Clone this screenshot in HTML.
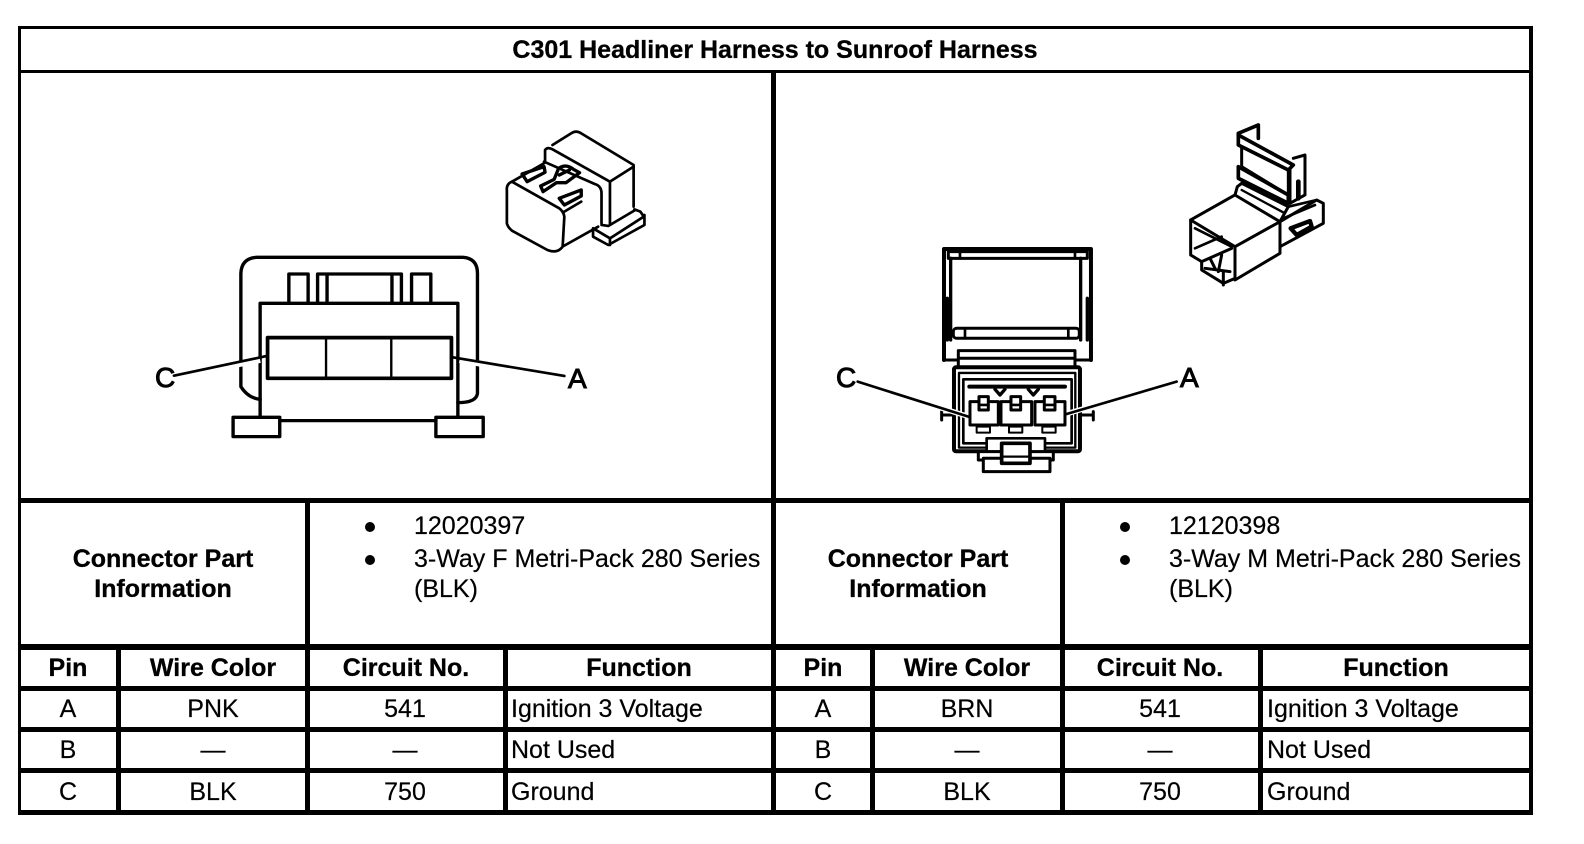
<!DOCTYPE html>
<html>
<head>
<meta charset="utf-8">
<style>
html,body{margin:0;padding:0;background:#fff;width:1584px;height:844px;overflow:hidden}
svg{display:block}
text{font-family:"Liberation Sans",Arial,sans-serif;font-size:25px;fill:#000;stroke:#000;stroke-width:.2px}
.b{font-weight:bold;stroke:#000;stroke-width:.3px}
.m{text-anchor:middle}
.lab{font-size:28px;stroke:#000;stroke-width:1px}
.d{fill:none;stroke:#000;stroke-linejoin:round;stroke-linecap:round}
</style>
</head>
<body>
<svg width="1584" height="844" viewBox="0 0 1584 844" xmlns="http://www.w3.org/2000/svg">
<rect width="1584" height="844" fill="#fff"/>

<!-- table grid -->
<g fill="#000" shape-rendering="crispEdges">
<rect x="18" y="26" width="1515" height="3"/>
<rect x="18" y="70" width="1515" height="3"/>
<rect x="18" y="498" width="1515" height="5"/>
<rect x="18" y="644" width="1515" height="6"/>
<rect x="18" y="686" width="1515" height="5"/>
<rect x="18" y="727" width="1515" height="5"/>
<rect x="18" y="768" width="1515" height="5"/>
<rect x="18" y="810" width="1515" height="5"/>
<rect x="18" y="26" width="3" height="789"/>
<rect x="1529" y="26" width="4" height="789"/>
<rect x="771" y="70" width="5" height="745"/>
<rect x="305" y="498" width="5" height="317"/>
<rect x="1060" y="498" width="5" height="317"/>
<rect x="116" y="644" width="5" height="171"/>
<rect x="503" y="644" width="5" height="171"/>
<rect x="870" y="644" width="5" height="171"/>
<rect x="1258" y="644" width="5" height="171"/>
</g>

<!-- text -->
<text x="775" y="58" class="b m">C301 Headliner Harness to Sunroof Harness</text>
<text x="163" y="567" class="b m">Connector Part</text>
<text x="163" y="597" class="b m">Information</text>
<text x="918" y="567" class="b m">Connector Part</text>
<text x="918" y="597" class="b m">Information</text>

<circle cx="370" cy="527" r="5"/><circle cx="370" cy="560" r="5"/>
<text x="414" y="534">12020397</text>
<text x="414" y="567">3-Way F Metri-Pack 280 Series</text>
<text x="414" y="597">(BLK)</text>
<circle cx="1125" cy="527" r="5"/><circle cx="1125" cy="560" r="5"/>
<text x="1169" y="534">12120398</text>
<text x="1169" y="567">3-Way M Metri-Pack 280 Series</text>
<text x="1169" y="597">(BLK)</text>

<text x="68" y="676" class="b m">Pin</text>
<text x="213" y="676" class="b m">Wire Color</text>
<text x="406" y="676" class="b m">Circuit No.</text>
<text x="639" y="676" class="b m">Function</text>
<text x="823" y="676" class="b m">Pin</text>
<text x="967" y="676" class="b m">Wire Color</text>
<text x="1160" y="676" class="b m">Circuit No.</text>
<text x="1396" y="676" class="b m">Function</text>

<text x="68" y="717" class="m">A</text><text x="213" y="717" class="m">PNK</text><text x="405" y="717" class="m">541</text><text x="511" y="717">Ignition 3 Voltage</text>
<text x="68" y="758" class="m">B</text><text x="213" y="758" class="m">—</text><text x="405" y="758" class="m">—</text><text x="511" y="758">Not Used</text>
<text x="68" y="800" class="m">C</text><text x="213" y="800" class="m">BLK</text><text x="405" y="800" class="m">750</text><text x="511" y="800">Ground</text>

<text x="823" y="717" class="m">A</text><text x="967" y="717" class="m">BRN</text><text x="1160" y="717" class="m">541</text><text x="1267" y="717">Ignition 3 Voltage</text>
<text x="823" y="758" class="m">B</text><text x="967" y="758" class="m">—</text><text x="1160" y="758" class="m">—</text><text x="1267" y="758">Not Used</text>
<text x="823" y="800" class="m">C</text><text x="967" y="800" class="m">BLK</text><text x="1160" y="800" class="m">750</text><text x="1267" y="800">Ground</text>

<!-- left connector -->
<g transform="translate(130 110) scale(.338 .3333)">
<g class="d" stroke-width="10">
<path d="M385,868Q350,865 328,830L328,490Q330,445 375,442L985,442Q1028,445 1028,490L1028,850Q1025,878 970,878"/>
<path d="M385,920L385,580L970,580L970,920"/>
<path d="M445,932L905,932"/>
<rect x="305" y="922" width="138" height="58"/>
<rect x="905" y="922" width="140" height="58"/>
<path d="M470,580V492H527V580M555,580V492H803V580M583,492V580M775,492V580M833,580V492H890V580"/>
<rect x="407" y="683" width="544" height="122" stroke-width="11"/>
<path d="M580,683V805M773,683V805" stroke-width="7"/>
</g>
<path d="M310,765L385,750M975,750L1040,762" stroke="#fff" stroke-width="18" fill="none"/>
<path d="M130,797L405,738M955,742L1285,798" class="d" stroke-width="8"/>
<!-- iso view -->
<g class="d" stroke-width="8">
<path d="M1130,215Q1113,222 1115,240L1115,340Q1118,352 1130,362L1235,420Q1265,432 1280,410L1285,320Q1283,305 1270,295L1130,215Z"/>
<path d="M1130,215L1225,160M1285,305L1335,275M1283,408L1385,350"/>
<path d="M1228,155V120Q1235,110 1250,118L1420,215V340"/>
<path d="M1250,105L1305,70Q1320,60 1335,70L1490,165V290M1420,215L1490,170"/>
<path d="M1370,355L1420,385L1520,320L1510,305L1492,298M1370,355V380L1415,405L1522,345V315M1420,385V405M1395,345L1415,348L1495,300"/>
<path d="M1225,155L1375,222Q1395,228 1395,250L1395,340"/>
<path d="M1160,192L1225,170L1228,187L1175,215Z" stroke-width="10"/>
<path d="M1215,228L1255,208L1268,175Q1290,160 1312,178L1330,188L1290,218M1215,228L1222,245L1262,218L1290,218M1270,195L1300,180" stroke-width="10"/>
<path d="M1270,265L1335,240V258L1285,285Z" stroke-width="10"/>
</g>
</g>
<text x="155" y="387" class="lab">C</text>
<text x="568" y="388" class="lab">A</text>

<!-- right connector -->
<g transform="translate(810 110) scale(.3333)">
<g class="d" stroke-width="9">
<path d="M402,750V417H843V750" stroke-width="12"/>
<path d="M415,425H832V445H415Z" stroke-width="9"/>
<path d="M450,425V445M795,425V445" stroke-width="8"/>
<path d="M422,445V690M812,445V690" stroke-width="10"/>
<path d="M412,565V690M832,565V690" stroke-width="10"/>
<rect x="430" y="655" width="378" height="30" rx="10" stroke-width="9"/>
<path d="M465,655V685M775,655V685" stroke-width="8"/>
<path d="M405,750H445V722H795V750H840M445,745H795M445,750V770M795,750V770" stroke-width="9"/>
<rect x="432" y="772" width="378" height="252" rx="6" stroke-width="12"/>
<rect x="447" y="789" width="349" height="224" stroke-width="7"/>
<rect x="460" y="808" width="325" height="192" stroke-width="8"/>
<path d="M478,830H765" stroke-width="12"/>
<path d="M555,838L570,855L585,838M655,838L670,855L685,838" stroke-width="10"/>
<path d="M395,915H430M395,905V930M815,915H850M850,905V930" stroke-width="9"/>
<rect x="480" y="875" width="85" height="70" fill="#fff" stroke-width="9"/>
<rect x="573" y="875" width="92" height="70" fill="#fff" stroke-width="9"/>
<rect x="675" y="875" width="90" height="70" fill="#fff" stroke-width="9"/>
<rect x="507" y="860" width="28" height="40" fill="#fff" stroke-width="9"/>
<rect x="603" y="860" width="29" height="40" fill="#fff" stroke-width="9"/>
<rect x="703" y="860" width="32" height="40" fill="#fff" stroke-width="9"/>
<path d="M507,885H535M603,885H632M703,885H735" stroke-width="8"/>
<rect x="500" y="950" width="40" height="18" stroke-width="6"/>
<rect x="597" y="950" width="40" height="18" stroke-width="6"/>
<rect x="697" y="950" width="40" height="18" stroke-width="6"/>
<rect x="530" y="985" width="175" height="40" fill="#fff" stroke-width="8"/>
<rect x="505" y="1025" width="225" height="25" fill="#fff" stroke-width="9"/>
<rect x="520" y="1045" width="200" height="40" fill="#fff" stroke-width="9"/>
<rect x="575" y="1000" width="85" height="60" fill="#fff" stroke-width="11"/>
<path d="M575,1040H660" stroke-width="7"/>
</g>
<path d="M380,890L470,918M775,910L860,885" stroke="#fff" stroke-width="16" fill="none"/>
<path d="M143,815L475,920M1100,815L770,912" class="d" stroke-width="8"/>
</g>

<!-- right iso view -->
<g transform="translate(1160 115) scale(.3333)" class="d" stroke-width="9">
<path d="M92,315L225,240L360,320L225,395Z"/>
<path d="M92,315V420L125,440M225,395V495L360,415V320"/>
<path d="M360,320L470,255L490,265V325L360,395"/>
<path d="M235,55L295,30V70M235,55V90L385,165L400,150L235,60" stroke-width="11"/>
<path d="M245,100V155L385,240V165" stroke-width="9"/>
<path d="M235,155V190L385,265V240M235,155L385,240" stroke-width="11"/>
<path d="M400,130L435,120V240L390,265V165" stroke-width="9"/>
<path d="M415,200V250" stroke-width="14"/>
<path d="M225,240L232,215L245,205L385,275L360,320" stroke-width="9"/>
<path d="M245,225L375,295" stroke-width="7"/>
<path d="M385,275L470,255M370,310L465,270" stroke-width="8"/>
<path d="M392,340L450,318L455,335L410,360Z" stroke-width="13"/>
<path d="M105,340L215,395M105,400L185,365" stroke-width="8"/>
<path d="M125,440V465L190,505L225,490M125,440L215,400M150,430L165,460M185,420L175,470M135,460L210,470M190,470V510" stroke-width="9"/>
</g>
<text x="836" y="387" class="lab">C</text>
<text x="1180" y="387" class="lab">A</text>
</svg>
</body>
</html>
